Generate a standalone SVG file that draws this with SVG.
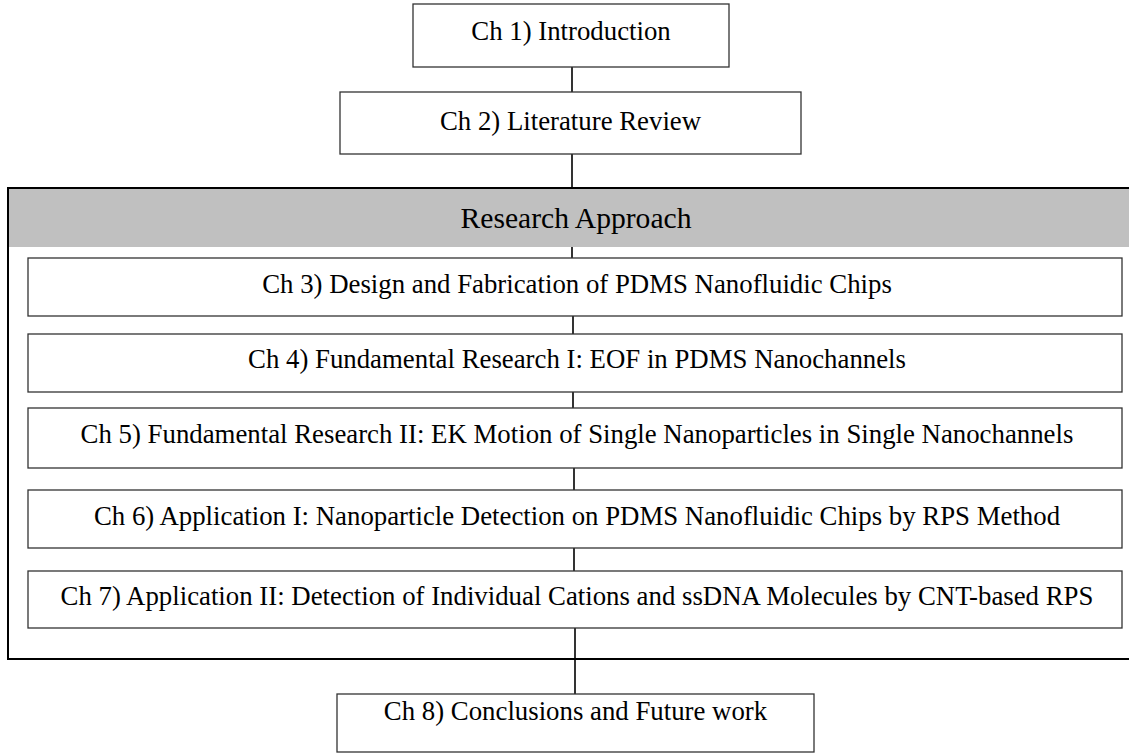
<svg xmlns="http://www.w3.org/2000/svg" width="1129" height="754" viewBox="0 0 1129 754">
<style>
.box{fill:#fff;stroke:#333;stroke-width:1.3}
.t{font-family:"Liberation Serif","Times New Roman",serif;font-size:26.8px;fill:#000;text-anchor:middle}
.h{font-family:"Liberation Serif","Times New Roman",serif;font-size:29.6px;fill:#000;text-anchor:middle}
.c{stroke:#000;stroke-width:1.6;fill:none}
</style>
<rect x="0" y="0" width="1129" height="754" fill="#fff"/>
<g id="research-approach">
<rect x="8" y="188" width="1130" height="471" fill="#fff" stroke="#000" stroke-width="2"/>
<rect x="9" y="189" width="1125" height="58" fill="#c0c0c0"/>
<text class="h" x="576" y="228">Research Approach</text>
</g>
<g id="connectors">
<line class="c" x1="572" y1="67" x2="572" y2="92"/>
<line class="c" x1="572" y1="154" x2="572" y2="188"/>
<line class="c" x1="572" y1="247" x2="572" y2="258"/>
<line class="c" x1="573" y1="316" x2="573" y2="334"/>
<line class="c" x1="573" y1="392" x2="573" y2="408"/>
<line class="c" x1="574" y1="468" x2="574" y2="490"/>
<line class="c" x1="574" y1="548" x2="574" y2="571"/>
<line class="c" x1="575" y1="628" x2="575" y2="694"/>
</g>
<g id="ch1">
<rect class="box" x="413" y="4" width="316" height="63"/>
<text class="t" x="571" y="40">Ch 1) Introduction</text>
</g>
<g id="ch2">
<rect class="box" x="340" y="92" width="461" height="62"/>
<text class="t" x="570.5" y="130">Ch 2) Literature Review</text>
</g>
<g id="ch3">
<rect class="box" x="28" y="258" width="1094" height="58"/>
<text class="t" x="577" y="293">Ch 3) Design and Fabrication of PDMS Nanofluidic Chips</text>
</g>
<g id="ch4">
<rect class="box" x="28" y="334" width="1094" height="58"/>
<text class="t" x="577" y="368">Ch 4) Fundamental Research I: EOF in PDMS Nanochannels</text>
</g>
<g id="ch5">
<rect class="box" x="28" y="408" width="1094" height="60"/>
<text class="t" x="577" y="443">Ch 5) Fundamental Research II: EK Motion of Single Nanoparticles in Single Nanochannels</text>
</g>
<g id="ch6">
<rect class="box" x="28" y="490" width="1094" height="58"/>
<text class="t" x="577" y="525">Ch 6) Application I: Nanoparticle Detection on PDMS Nanofluidic Chips by RPS Method</text>
</g>
<g id="ch7">
<rect class="box" x="28" y="571" width="1094" height="57"/>
<text class="t" x="577" y="605">Ch 7) Application II: Detection of Individual Cations and ssDNA Molecules by CNT-based RPS</text>
</g>
<g id="ch8">
<rect class="box" x="337" y="694" width="477" height="58"/>
<text class="t" x="575.5" y="720">Ch 8) Conclusions and Future work</text>
</g>
</svg>
